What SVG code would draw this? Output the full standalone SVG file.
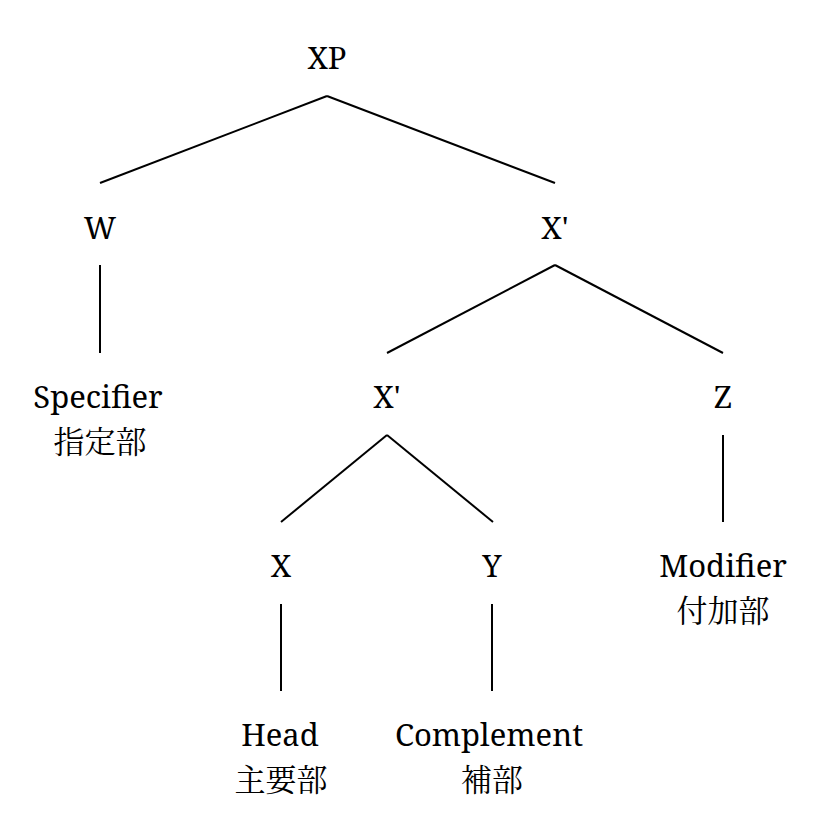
<svg xmlns="http://www.w3.org/2000/svg" width="823" height="833" viewBox="0 0 823 833">
<style>
text{font-family:"Noto Serif","DejaVu Serif","Liberation Serif","Noto Sans CJK JP",serif;font-size:31px;fill:#000;text-anchor:middle}
.j{font-family:"Noto Serif CJK JP","Noto Sans CJK JP",sans-serif;font-size:31px}
#edges line{stroke:#000;stroke-width:2}
</style>
<rect width="823" height="833" fill="#fff"/>
<g id="edges">
<line x1="327" y1="96" x2="100" y2="183"/>
<line x1="327" y1="96" x2="555" y2="183"/>
<line x1="100" y1="265" x2="100" y2="353"/>
<line x1="555" y1="265" x2="387" y2="353"/>
<line x1="555" y1="265" x2="723" y2="353"/>
<line x1="387" y1="435" x2="281" y2="522"/>
<line x1="387" y1="435" x2="493" y2="522"/>
<line x1="723" y1="435" x2="723" y2="522"/>
<line x1="281" y1="604" x2="281" y2="691"/>
<line x1="492" y1="604" x2="492" y2="691"/>
</g>
<g id="XP"><text x="327" y="69">XP</text></g>
<g id="W"><text x="100" y="239">W</text></g>
<g id="Xbar1"><text x="555" y="239">X'</text></g>
<g id="Spec"><text x="98" y="408">Specifier</text><text class="j" x="100" y="453">指定部</text></g>
<g id="Xbar2"><text x="387" y="408">X'</text></g>
<g id="Z"><text x="723" y="408">Z</text></g>
<g id="X"><text x="281" y="577">X</text></g>
<g id="Y"><text x="492" y="577">Y</text></g>
<g id="Mod"><text x="723" y="577">Modifier</text><text class="j" x="723" y="622">付加部</text></g>
<g id="Head"><text x="280" y="746">Head</text><text class="j" x="281" y="791">主要部</text></g>
<g id="Comp"><text x="489" y="746">Complement</text><text class="j" x="492" y="791">補部</text></g>
</svg>
